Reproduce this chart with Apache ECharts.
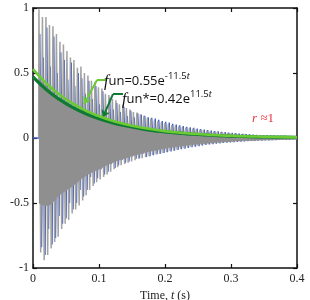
<!DOCTYPE html>
<html><head><meta charset="utf-8">
<script src="https://cdn.jsdelivr.net/npm/echarts@6/dist/echarts.min.js"></script>
<style>html,body{margin:0;padding:0;background:#fff}#c{width:310px;height:300px}</style>
</head><body><div id="c"></div>
<script>
// ---- data ----
const xTickLabels = ['0', '0.1', '0.2', '0.3', '0.4'];
const yTickLabels = ['-1', '-0.5', '0', '0.5', '1'];
// oscillation sampled at its peaks (regular half-period grid)
const peakStart = 0.009;
const halfPeriod = 0.00265;
const blueShift = 0.0013;
const grayUp = [0.99,0.93,0.93,0.87,0.86,0.80,0.74,0.72,0.67,0.62,0.60,0.54,
  0.55,0.50,0.48,0.44,0.43,0.39,0.38,0.34,0.33,0.30,0.29,0.26,
  0.255,0.23,0.22,0.20,0.195,0.18,0.17,0.155,0.15,0.135,0.13,0.12,
  0.115,0.105,0.10,0.095,0.09,0.085,0.08,0.075,0.072,0.068,0.065,0.06,
  0.057,0.053,0.05,0.047,0.045,0.042,0.04,0.037,0.035,0.032,0.03,0.027,
  0.025,0.022,0.02,0.018,0.017,0.016,0.015,0.014,0.013,0.012,0.012,0.011,0.011,0.010];
const grayDown = [-0.88,-0.94,-0.90,-0.85,-0.80,-0.76,-0.70,-0.66,-0.63,-0.58,-0.55,-0.52,
  -0.48,-0.44,-0.40,-0.37,-0.34,-0.32,-0.30,-0.28,-0.26,-0.24,-0.225,-0.21,
  -0.20,-0.19,-0.18,-0.17,-0.16,-0.155,-0.148,-0.14,-0.13,-0.125,-0.12,-0.115,
  -0.108,-0.10,-0.095,-0.09,-0.085,-0.078,-0.072,-0.068,-0.063,-0.06,-0.055,-0.05,
  -0.047,-0.044,-0.041,-0.038,-0.035,-0.032,-0.03,-0.028,-0.026,-0.024,-0.022,-0.021,
  -0.02,-0.019,-0.018,-0.017,-0.016,-0.015,-0.014,-0.013,-0.012,-0.012,-0.011,-0.011,-0.010,-0.010];
const blueUp = [0.80,0.62,0.85,0.55,0.78,0.50,0.66,0.60,0.45,0.58,0.40,0.50,
  0.46,0.34,0.44,0.30,0.40,0.26,0.36,0.24,0.31,0.22,0.27,0.20,
  0.24,0.17,0.21,0.16,0.19,0.18,0.17,0.16,0.155,0.15,0.14,0.13,
  0.125,0.118,0.11,0.104,0.098,0.092,0.087,0.082,0.078,0.073,0.069,0.065,
  0.061,0.057,0.054,0.051,0.048,0.045,0.042,0.04,0.037,0.034,0.032,0.03,
  0.027,0.025,0.023,0.021,0.02,0.019,0.018,0.017,0.016,0.015,0.015,0.014,0.014,0.013];
const blueDown = [-0.84,-0.90,-0.70,-0.82,-0.77,-0.60,-0.66,-0.62,-0.50,-0.55,-0.50,-0.40,
  -0.45,-0.40,-0.30,-0.35,-0.31,-0.24,-0.28,-0.26,-0.20,-0.23,-0.21,-0.17,
  -0.19,-0.18,-0.14,-0.16,-0.155,-0.12,-0.145,-0.14,-0.132,-0.125,-0.12,-0.115,
  -0.11,-0.103,-0.097,-0.092,-0.087,-0.082,-0.076,-0.071,-0.067,-0.063,-0.058,-0.054,
  -0.05,-0.047,-0.044,-0.041,-0.038,-0.036,-0.033,-0.031,-0.029,-0.027,-0.025,-0.023,
  -0.022,-0.021,-0.02,-0.019,-0.018,-0.017,-0.016,-0.015,-0.014,-0.014,-0.013,-0.013,-0.012,-0.012];
// solid core of the oscillation (dense part)
const bandT = [0.009,0.02,0.04,0.06,0.08,0.10,0.12,0.14,0.16,0.18,0.20,0.22,0.24,0.26,0.28,0.30,0.32,0.34,0.36,0.38,0.40];
const bandUpper = [0.45,0.40,0.30,0.235,0.185,0.145,0.115,0.092,0.073,0.058,0.046,0.036,0.029,0.023,0.018,0.014,0.011,0.009,0.007,0.006,0.005];
const bandLower = [-0.50,-0.52,-0.44,-0.37,-0.29,-0.24,-0.19,-0.155,-0.125,-0.10,-0.08,-0.065,-0.052,-0.042,-0.033,-0.026,-0.021,-0.017,-0.014,-0.011,-0.009];
// envelope curves
const envT = [0,0.02,0.04,0.06,0.08,0.10,0.12,0.14,0.16,0.18,0.20,0.22,0.24,0.26,0.28,0.30,0.32,0.34,0.36,0.38,0.40];
const funLight = [0.530,0.421,0.335,0.266,0.211,0.168,0.133,0.106,0.084,0.067,0.053,0.042,0.034,0.027,0.021,0.017,0.013,0.011,0.008,0.007,0.005];
const funDark  = [0.470,0.373,0.297,0.236,0.187,0.149,0.118,0.094,0.075,0.059,0.047,0.037,0.030,0.024,0.019,0.015,0.012,0.009,0.007,0.006,0.005];

// ---- build series data ----
function zigzag(up, down, shift, lead) {
  const d = lead.slice();
  for (let k = 0; k < up.length; k++) {
    d.push([peakStart + shift + 2 * k * halfPeriod, up[k]]);
    d.push([peakStart + shift + (2 * k + 1) * halfPeriod, down[k]]);
  }
  return d;
}
const grayData = zigzag(grayUp, grayDown, 0, [[0.0085, 0]]);
const blueData = zigzag(blueUp, blueDown, blueShift, [[0, 0], [0.0095, 0]]);
const bandUpData = bandT.map((t, i) => [t, bandUpper[i]]);
const bandLowData = bandT.map((t, i) => [t, bandLower[i]]);
const lightData = envT.map((t, i) => [t, funLight[i]]);
const darkData = envT.map((t, i) => [t, funDark[i]]);

const serif = 'Liberation Serif';
const sans = 'Open Sans';
const axisCommon = {
  axisLine: { show: true, onZero: false, lineStyle: { color: '#111', width: 1.5 } },
  axisTick: { show: true, inside: true, length: 4, lineStyle: { color: '#111', width: 1.2 } },
  splitLine: { show: false }
};
const richAnno = {
  f: { fontFamily: serif, fontStyle: 'italic', fontSize: 16, fill: '#111' },
  a: { fontFamily: sans, fontSize: 13, fill: '#111' },
  p: { fontFamily: sans, fontSize: 9.5, fill: '#111', verticalAlign: 'top', padding: [0, 0, 10, 0] },
  t: { fontFamily: serif, fontStyle: 'italic', fontSize: 10.5, fill: '#111', verticalAlign: 'top', padding: [0, 0, 10, 0] }
};
const bandSeries = (data) => ({ type: 'line', data: data, symbol: 'none', smooth: true, z: 4,
  lineStyle: { color: '#8f8f8f', width: 0.5 }, areaStyle: { color: '#8f8f8f', opacity: 1, origin: 0 } });
const chart = echarts.init(document.getElementById('c'), null, { renderer: 'canvas' });
chart.setOption({
  animation: false,
  backgroundColor: '#fff',
  grid: { left: 33, right: 13, top: 8, bottom: 32, containLabel: false, outerBoundsMode: 'none' },
  xAxis: [
    Object.assign({ type: 'value', min: 0, max: 0.4, interval: 0.1, position: 'bottom',
      axisLabel: { fontFamily: serif, fontSize: 12, color: '#222', margin: 5,
        formatter: (v) => xTickLabels[Math.round(v * 10)] },
      name: 'Time, {i|t} (s)', nameLocation: 'middle', nameGap: 20,
      nameTextStyle: { fontFamily: serif, fontSize: 12, color: '#222',
        rich: { i: { fontFamily: serif, fontStyle: 'italic', fontSize: 12, color: '#222' } } }
    }, axisCommon),
    Object.assign({ type: 'value', min: 0, max: 0.4, interval: 0.1, position: 'top',
      axisLabel: { show: false } }, axisCommon)
  ],
  yAxis: [
    Object.assign({ type: 'value', min: -1, max: 1, interval: 0.5, position: 'left',
      axisLabel: { fontFamily: serif, fontSize: 12, color: '#222', margin: 4,
        formatter: (v) => yTickLabels[Math.round(v * 2) + 2] },
      name: 'Displacement, {i|u}/{i|u}{s|max}', nameLocation: 'middle', nameGap: 21, nameRotate: 90,
      nameTextStyle: { fontFamily: serif, fontSize: 12, color: '#222',
        rich: { i: { fontFamily: serif, fontStyle: 'italic', fontSize: 12, color: '#222' },
                s: { fontFamily: serif, fontSize: 8, color: '#222', verticalAlign: 'bottom', padding: [6, 0, 0, 0] } } }
    }, axisCommon),
    Object.assign({ type: 'value', min: -1, max: 1, interval: 0.5, position: 'right',
      axisLabel: { show: false } }, axisCommon)
  ],
  series: [
    { type: 'line', data: blueData, symbol: 'none', z: 2,
      lineStyle: { color: '#3a58c0', width: 1.3 } },
    { type: 'line', data: grayData, symbol: 'none', z: 3,
      lineStyle: { color: '#a2a2a2', width: 1.5 } },
    bandSeries(bandUpData),
    bandSeries(bandLowData),
    { type: 'line', data: darkData, symbol: 'none', smooth: true, z: 5,
      lineStyle: { color: '#0e7a32', width: 3.2 },
      markLine: { silent: true, symbolSize: 7, label: { show: false },
        lineStyle: { color: '#0e7a32', width: 2, type: 'solid' },
        data: [
          [{ coord: [0.1212, 0.338], symbol: 'none' }, { coord: [0.1364, 0.338], symbol: 'none' }],
          [{ coord: [0.1212, 0.338], symbol: 'none' }, { coord: [0.106, 0.16], symbol: 'arrow' }]
        ] } },
    { type: 'line', data: lightData, symbol: 'none', smooth: true, z: 6,
      lineStyle: { color: '#6ccb35', width: 2.6 },
      markLine: { silent: true, symbolSize: 7, label: { show: false },
        lineStyle: { color: '#6ccb35', width: 2, type: 'solid' },
        data: [
          [{ coord: [0.097, 0.446], symbol: 'none' }, { coord: [0.112, 0.446], symbol: 'none' }],
          [{ coord: [0.097, 0.446], symbol: 'none' }, { coord: [0.0773, 0.26], symbol: 'arrow' }]
        ] } }
  ],
  graphic: [
    { type: 'text', left: 104, top: 71, z: 20, style: {
      text: '{f|f}{a|un=0.55e}{p|-11.5}{t|t}', rich: richAnno } },
    { type: 'text', left: 122, top: 89, z: 20, style: {
      text: '{f|f}{a|un*=0.42e}{p|11.5}{t|t}', rich: richAnno } },
    { type: 'text', left: 252, top: 112, z: 20, style: {
      text: '{i|r} {a|≈1}',
      rich: {
        i: { fontFamily: serif, fontStyle: 'italic', fontSize: 13, fill: '#e8323c' },
        a: { fontFamily: serif, fontSize: 13, fill: '#e8323c' }
      } } }
  ]
});
</script></body></html>
